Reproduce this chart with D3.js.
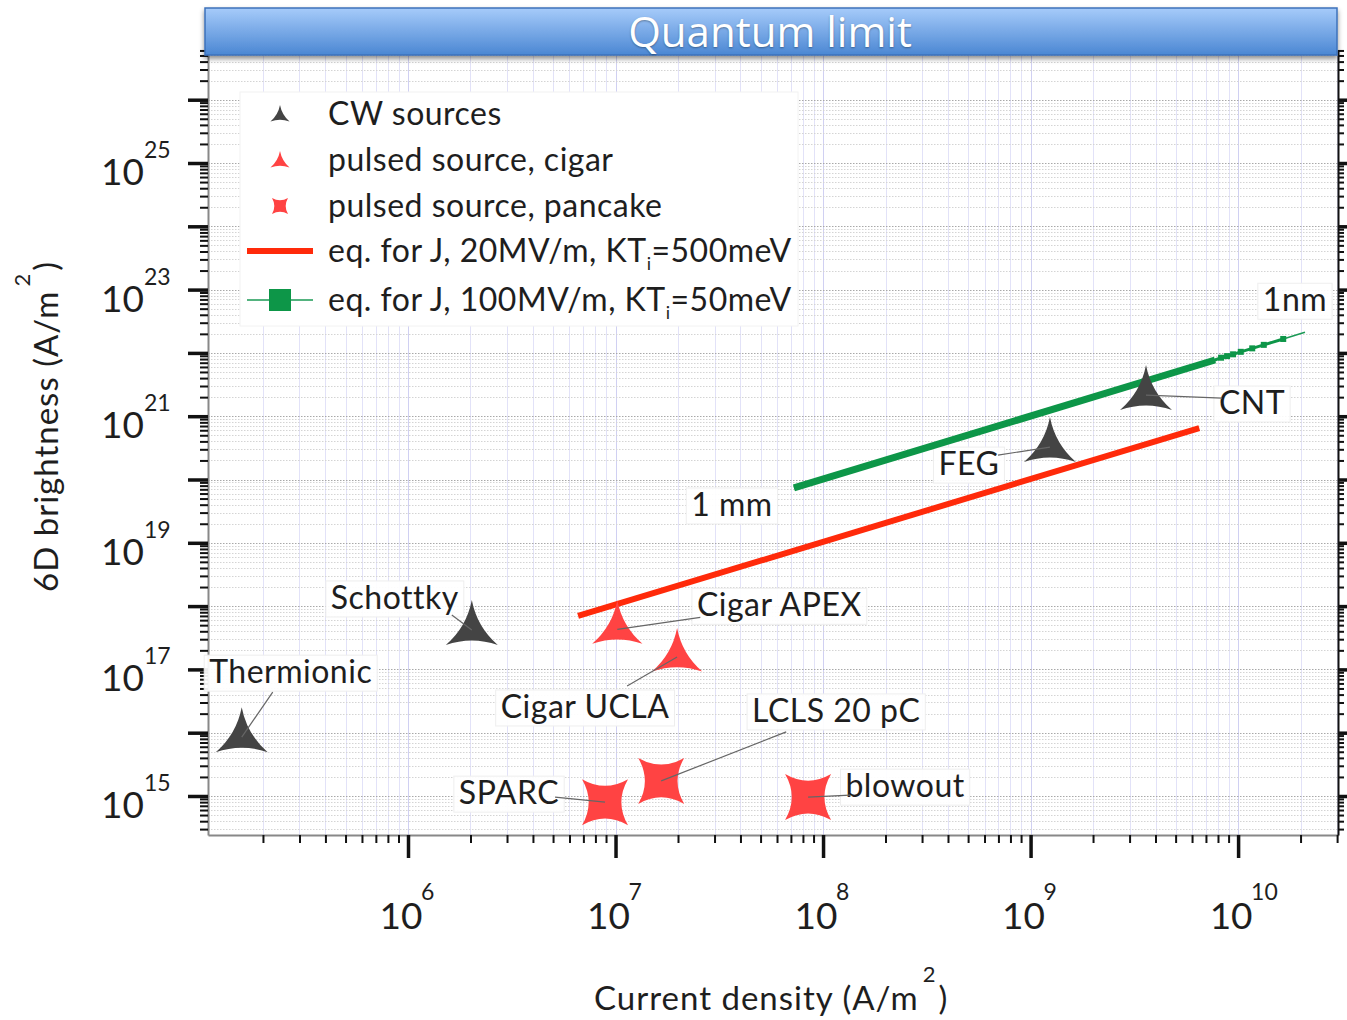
<!DOCTYPE html>
<meta charset="utf-8">
<title>Quantum limit</title>
<style>
    body { margin: 0; background: #fff; }
    svg { font-family: Lato, "Noto Sans", sans-serif; display: block; }
    .grid-x line { stroke: #e2e2f8; stroke-width: 1; }
    .grid-x line.dec { stroke: #d0d0f2; }
    .grid-y line { stroke: #d4d4d4; stroke-width: 1; stroke-dasharray: 1.5 1.5; }
    .grid-y line.dec { stroke: #a8a8a8; }
    .axis path { fill: none; }
    .lbl { font-size: 32px; fill: #1e1e1e; letter-spacing: 0.5px; }
</style>
<script src="https://cdn.jsdelivr.net/npm/d3@7"></script>
<svg width="1347" height="1020"></svg>
<script>
    // CW sources
    var cwNames = ["Thermionic", "Schottky", "FEG", "CNT"];
    var cwJ = [1.58e5, 2.03e6, 1.24e9, 3.6e9];
    var cwB = [8.5e15, 4.2e17, 3.25e20, 2.16e21];

    // pulsed source, cigar
    var cigarNames = ["Cigar APEX", "Cigar UCLA"];
    var cigarJ = [1.02e7, 1.98e7];
    var cigarB = [4.3e17, 1.57e17];

    // pulsed source, pancake
    var pancakeNames = ["SPARC", "LCLS 20 pC", "blowout"];
    var pancakeJ = [8.9e6, 1.66e7, 8.47e7];
    var pancakeB = [8.0e14, 1.73e15, 9.6e14];

    // eq. for J, 20MV/m, KTi=500meV
    var redJ = [6.6e6, 6.5e9];
    var redB = [7.0e17, 6.5e20];

    // eq. for J, 100MV/m, KTi=50meV (dense part, then single markers)
    var greenJ = [7.24e7, 7.74e9];
    var greenB = [7.35e19, 7.73e21];
    var greenMarkJ = [8.28e9, 8.85e9, 9.46e9, 1.03e10, 1.17e10, 1.33e10, 1.65e10];
    var greenMarkB = [8.4e21, 8.9e21, 9.5e21, 1.04e22, 1.18e22, 1.34e22, 1.66e22];
    var greenEndJ = [1.65e10, 2.1e10];
    var greenEndB = [1.66e22, 2.12e22];

    var legendLabels = ["CW sources", "pulsed source, cigar", "pulsed source, pancake",
        "eq. for J, 20MV/m, KT", "eq. for J, 100MV/m, KT"];
    var legendTails = ["", "", "", "=500meV", "=50meV"];

    var xExps = [6, 7, 8, 9, 10];
    var yExps = [15, 17, 19, 21, 23, 25];

    (function () {
    var svg = d3.select("svg");
    var mLeft = 208, mRight = 1338, mTop = 50, mBottom = 835;

    var x = d3.scaleLog().domain([1.087e5, 3.03e10]).range([mLeft, mRight]);
    var y = d3.scaleLog().domain([2.42e14, 6.1e26]).range([mBottom, mTop]);

    var defs = svg.append("defs");
    var grad = defs.append("linearGradient").attr("id", "bann")
        .attr("x1", 0).attr("y1", 0).attr("x2", 0).attr("y2", 1);
    grad.append("stop").attr("offset", "0%").attr("stop-color", "#a6cbfa");
    grad.append("stop").attr("offset", "100%").attr("stop-color", "#4b87d3");
    var sh = defs.append("filter").attr("id", "shadow")
        .attr("x", "-5%").attr("y", "-20%").attr("width", "110%").attr("height", "160%");
    sh.append("feDropShadow").attr("dx", 0).attr("dy", 3).attr("stdDeviation", 2.5)
        .attr("flood-color", "#000").attr("flood-opacity", 0.45);
    defs.append("clipPath").attr("id", "plotclip").append("rect")
        .attr("x", mLeft).attr("y", mTop).attr("width", mRight - mLeft).attr("height", mBottom - mTop);

    // tick values
    function logTicks(scale) {
        var d = scale.domain(), out = [];
        for (var e = Math.floor(Math.log10(d[0])); e <= Math.ceil(Math.log10(d[1])); e++) {
            for (var k = 1; k < 10; k++) {
                var v = k * Math.pow(10, e);
                if (v >= d[0] && v <= d[1]) out.push(v);
            }
        }
        return out;
    }
    var xMinor = logTicks(x), yMinor = logTicks(y);
    function isDec(v) { return Math.abs(Math.log10(v) - Math.round(Math.log10(v))) < 1e-9; }

    // grid
    svg.append("g").attr("class", "grid-x").selectAll("line").data(xMinor).enter().append("line")
        .attr("class", function (d) { return isDec(d) ? "dec" : ""; })
        .attr("x1", function (d) { return Math.round(x(d)) + 0.5; })
        .attr("x2", function (d) { return Math.round(x(d)) + 0.5; })
        .attr("y1", mTop).attr("y2", mBottom);
    svg.append("g").attr("class", "grid-y").selectAll("line").data(yMinor).enter().append("line")
        .attr("class", function (d) { return isDec(d) ? "dec" : ""; })
        .attr("y1", function (d) { return Math.round(y(d)) + 0.5; })
        .attr("y2", function (d) { return Math.round(y(d)) + 0.5; })
        .attr("x1", mLeft).attr("x2", mRight);

    // axes
    function styleAxis(g, col, w) {
        g.attr("class", "axis");
        g.selectAll("line").attr("stroke", col).attr("stroke-width", w);
        g.selectAll("text").remove();
    }
    var xMaj = xMinor.filter(isDec), yMaj = yMinor.filter(isDec);

    svg.append("g").attr("transform", "translate(0," + mBottom + ")")
        .call(d3.axisBottom(x).tickValues(xMinor).tickSize(8).tickFormat("").tickSizeOuter(0))
        .call(styleAxis, "#111", 2).select(".domain").attr("stroke", "#888").attr("stroke-width", 2);
    svg.append("g").attr("transform", "translate(0," + mBottom + ")")
        .call(d3.axisBottom(x).tickValues(xMaj).tickSize(23).tickFormat("").tickSizeOuter(0))
        .call(styleAxis, "#111", 3.5).select(".domain").remove();

    svg.append("g").attr("transform", "translate(" + mLeft + ",0)")
        .call(d3.axisLeft(y).tickValues(yMinor).tickSize(8).tickFormat("").tickSizeOuter(0))
        .call(styleAxis, "#111", 2).select(".domain").attr("stroke", "#888").attr("stroke-width", 2);
    svg.append("g").attr("transform", "translate(" + mLeft + ",0)")
        .call(d3.axisLeft(y).tickValues(yMaj).tickSize(20).tickFormat("").tickSizeOuter(0))
        .call(styleAxis, "#111", 3.5).select(".domain").remove();

    svg.append("g").attr("transform", "translate(" + mRight + ",0)")
        .call(d3.axisRight(y).tickValues(yMinor).tickSize(6).tickFormat("").tickSizeOuter(0))
        .call(styleAxis, "#111", 2).select(".domain").attr("stroke", "#111").attr("stroke-width", 2);
    svg.append("g").attr("transform", "translate(" + mRight + ",0)")
        .call(d3.axisRight(y).tickValues(yMaj).tickSize(9).tickFormat("").tickSizeOuter(0))
        .call(styleAxis, "#111", 3.5).select(".domain").remove();

    // tick labels
    var xl = svg.append("g").selectAll("g").data(xExps).enter().append("g")
        .attr("transform", function (d) { return "translate(" + x(Math.pow(10, d)) + ",0)"; });
    xl.append("text").attr("x", -7).attr("y", 929).attr("text-anchor", "middle")
        .attr("font-size", 37).attr("fill", "#1e1e1e").text("10");
    xl.append("text").attr("x", 13).attr("y", 900).attr("text-anchor", "start")
        .attr("font-size", 23).attr("fill", "#1e1e1e").text(function (d) { return d; });

    var yl = svg.append("g").selectAll("g").data(yExps).enter().append("g")
        .attr("transform", function (d) { return "translate(0," + y(Math.pow(10, d)) + ")"; });
    yl.append("text").attr("x", 144).attr("y", 22).attr("text-anchor", "end")
        .attr("font-size", 37).attr("fill", "#1e1e1e").text("10");
    yl.append("text").attr("x", 144).attr("y", -5).attr("text-anchor", "start")
        .attr("font-size", 23).attr("fill", "#1e1e1e").text(function (d) { return d; });

    // axis titles
    var xt = svg.append("text").attr("x", 594).attr("y", 1010).attr("font-size", 33)
        .attr("letter-spacing", "1px").attr("fill", "#1e1e1e");
    xt.append("tspan").text("Current density (A/m");
    xt.append("tspan").attr("dy", -28).attr("font-size", 22).attr("dx", 4).text("2");
    xt.append("tspan").attr("dy", 28).attr("dx", 2).text(")");

    var yt = svg.append("text").attr("transform", "translate(58,592) rotate(-90)")
        .attr("font-size", 33).attr("letter-spacing", "1px").attr("fill", "#1e1e1e");
    yt.append("tspan").text("6D brightness (A/m");
    yt.append("tspan").attr("dy", -28).attr("font-size", 22).attr("dx", 4).text("2");
    yt.append("tspan").attr("dy", 28).attr("dx", 2).text(")");

    // marker shapes
    function triStar(R) {
        var p = [], c = [];
        for (var i = 0; i < 3; i++) {
            var a = -Math.PI / 2 + i * 2 * Math.PI / 3;
            p.push([R * Math.cos(a), R * Math.sin(a)]);
            var b = a + Math.PI / 3;
            c.push([0.2 * R * Math.cos(b), 0.2 * R * Math.sin(b)]);
        }
        var path = d3.path();
        path.moveTo(p[0][0], p[0][1]);
        for (var j = 0; j < 3; j++) {
            var n = p[(j + 1) % 3];
            path.quadraticCurveTo(c[j][0], c[j][1], n[0], n[1]);
        }
        path.closePath();
        return path.toString();
    }
    function quadStar(h) {
        var pts = [[-h, -h], [h, -h], [h, h], [-h, h]];
        var k = 0.42 * h;
        var ctl = [[0, -k], [k, 0], [0, k], [-k, 0]];
        var path = d3.path();
        path.moveTo(pts[0][0], pts[0][1]);
        for (var j = 0; j < 4; j++) {
            var n = pts[(j + 1) % 4];
            path.quadraticCurveTo(ctl[j][0], ctl[j][1], n[0], n[1]);
        }
        path.closePath();
        return path.toString();
    }

    var plot = svg.append("g").attr("clip-path", "url(#plotclip)");

    // label boxes + leaders (under the lines, like the original)
    var notes = [
        // name, J, B, text dx, dy, leader start dx, dy
        ["Thermionic", cwJ[0], cwB[0], 49, -65, 31, -45],
        ["Schottky", cwJ[1], cwB[1], -77, -32, -20, -15],
        ["FEG", cwJ[2], cwB[2], -81, 17, -52, 8],
        ["CNT", cwJ[3], cwB[3], 106, 8, 76, 3],
        ["Cigar APEX", cigarJ[0], cigarB[0], 162, -24, 83, -12],
        ["Cigar UCLA", cigarJ[1], cigarB[1], -92, 50, -50, 29],
        ["SPARC", pancakeJ[0], pancakeB[0], -96, -9, -50, -5],
        ["LCLS 20 pC", pancakeJ[1], pancakeB[1], 175, -70, 125, -49],
        ["blowout", pancakeJ[2], pancakeB[2], 97, -11, 42, -2],
        ["1 mm", greenJ[0], greenB[0], -62, 17, null, null],
        ["1nm", greenEndJ[1], greenEndB[1], -10, -32, null, null]
    ];

    var boxes = svg.append("g");
    notes.forEach(function (n) {
        var px = x(n[1]), py = y(n[2]);
        var t = boxes.append("text").attr("class", "lbl")
            .attr("x", px + n[3]).attr("y", py + n[4] + 11).attr("text-anchor", "middle").text(n[0]);
        var bb = t.node().getBBox();
        boxes.insert("rect", function () { return t.node(); })
            .attr("x", bb.x - 5).attr("y", py + n[4] - 17).attr("width", bb.width + 10).attr("height", 36)
            .attr("fill", "#fff").attr("fill-opacity", 0.92).attr("stroke", "#eee");
    });

    // lines
    var line = d3.line().x(function (d) { return x(d[0]); }).y(function (d) { return y(d[1]); });
    plot.raise();
    plot.append("path").datum(d3.zip(redJ, redB)).attr("d", line)
        .attr("stroke", "#ff2a0a").attr("stroke-width", 6).attr("fill", "none");
    plot.append("path").datum(d3.zip(greenEndJ, greenEndB)).attr("d", line)
        .attr("stroke", "#1a9a55").attr("stroke-width", 1.5).attr("fill", "none");
    plot.append("path").datum(d3.zip(greenJ.concat(greenMarkJ), greenB.concat(greenMarkB))).attr("d", line)
        .attr("stroke", "#0d9648").attr("stroke-width", 3).attr("fill", "none");
    plot.append("path").datum(d3.zip(greenJ, greenB)).attr("d", line)
        .attr("stroke", "#0d9648").attr("stroke-width", 7).attr("fill", "none");
    plot.selectAll(".gm").data(d3.zip(greenMarkJ, greenMarkB)).enter().append("rect")
        .attr("x", function (d) { return x(d[0]) - 3; })
        .attr("y", function (d) { return y(d[1]) - 3; })
        .attr("width", 6).attr("height", 6).attr("fill", "#0d9648");

    // markers
    var mk = svg.append("g");
    mk.selectAll(".cw").data(d3.zip(cwJ, cwB)).enter().append("path")
        .attr("d", triStar(30)).attr("fill", "#444")
        .attr("transform", function (d) { return "translate(" + x(d[0]) + "," + y(d[1]) + ")"; });
    mk.selectAll(".cg").data(d3.zip(cigarJ, cigarB)).enter().append("path")
        .attr("d", triStar(29)).attr("fill", "#ff4343")
        .attr("transform", function (d) { return "translate(" + x(d[0]) + "," + y(d[1]) + ")"; });
    mk.selectAll(".pc").data(d3.zip(pancakeJ, pancakeB)).enter().append("path")
        .attr("d", quadStar(23)).attr("fill", "#ff4343")
        .attr("transform", function (d) { return "translate(" + x(d[0]) + "," + y(d[1]) + ")"; });

    // leaders on top of markers
    var leaders = svg.append("g");
    notes.forEach(function (n) {
        if (n[5] === null) return;
        var px = x(n[1]), py = y(n[2]);
        leaders.append("line").attr("x1", px + n[5]).attr("y1", py + n[6])
            .attr("x2", px).attr("y2", py).attr("stroke", "#666").attr("stroke-width", 1.2);
    });

    // legend
    var lg = svg.append("g");
    lg.append("rect").attr("x", 240).attr("y", 92).attr("width", 558).attr("height", 234)
        .attr("fill", "#fff").attr("stroke", "#f2f2f2");
    var ly = [114, 160, 206, 251, 300];
    lg.append("path").attr("d", triStar(11)).attr("fill", "#444")
        .attr("transform", "translate(280," + (ly[0] + 2) + ")");
    lg.append("path").attr("d", triStar(11)).attr("fill", "#ff4343")
        .attr("transform", "translate(280," + (ly[1] + 2) + ")");
    lg.append("path").attr("d", quadStar(8)).attr("fill", "#ff4343")
        .attr("transform", "translate(280," + ly[2] + ")");
    lg.append("line").attr("x1", 247).attr("x2", 313).attr("y1", ly[3]).attr("y2", ly[3])
        .attr("stroke", "#ff2a0a").attr("stroke-width", 6);
    lg.append("line").attr("x1", 247).attr("x2", 313).attr("y1", ly[4]).attr("y2", ly[4])
        .attr("stroke", "#1a9a55").attr("stroke-width", 1.5);
    lg.append("rect").attr("x", 269).attr("y", ly[4] - 11).attr("width", 22).attr("height", 22)
        .attr("fill", "#0d9648");
    legendLabels.forEach(function (s, i) {
        var t = lg.append("text").attr("class", "lbl").attr("x", 328).attr("y", ly[i] + 11).text(s);
        if (legendTails[i]) {
            t.append("tspan").attr("font-size", 18).attr("dy", 8).text("i");
            t.append("tspan").attr("dy", -8).text(legendTails[i]);
        }
    });

    // banner
    svg.append("rect").attr("x", 205).attr("y", 8).attr("width", 1132).attr("height", 47)
        .attr("fill", "url(#bann)").attr("stroke", "#3d72bb").attr("stroke-width", 1.5)
        .attr("filter", "url(#shadow)");
    svg.append("text").attr("x", 770).attr("y", 47).attr("text-anchor", "middle")
        .attr("font-family", "'Open Sans', sans-serif").attr("font-size", 42).attr("fill", "#fff")
        .attr("style", "text-shadow: 0 1px 2px rgba(0,0,0,0.35)")
        .text("Quantum limit");
    })();
</script>
